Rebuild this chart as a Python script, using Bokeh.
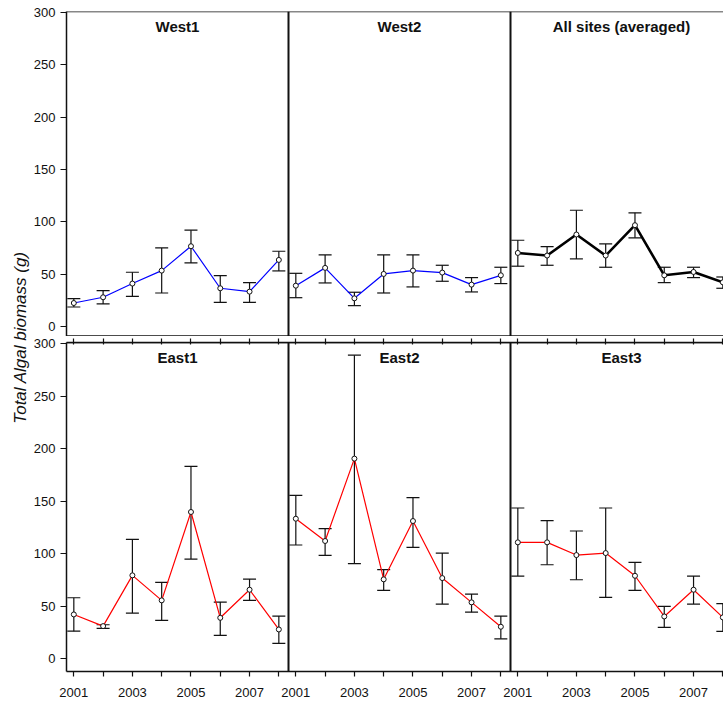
import math
from bokeh.plotting import figure
from bokeh.models import (ColumnDataSource, Whisker, TeeHead, Label, Span,
                          FixedTicker, Range1d, LinearAxis)
from bokeh.layouts import row, column
from bokeh.embed import file_html
from bokeh.resources import INLINE

# ---------------- data ----------------
years = [2001, 2002, 2003, 2004, 2005, 2006, 2007, 2008]
year_labels = ["2001", "", "2003", "", "2005", "", "2007", ""]
y_ticks = [0, 50, 100, 150, 200, 250, 300]

west1_mean = [22.3, 27.8, 40.9, 53.3, 76.6, 36.4, 33.2, 63.5]
west1_upper = [26.5, 34.2, 51.7, 75.0, 91.9, 48.5, 41.8, 71.8]
west1_lower = [18.5, 21.4, 28.7, 31.9, 60.6, 23.0, 23.0, 53.0]

west2_mean = [38.9, 55.9, 26.8, 50.1, 53.3, 51.4, 39.9, 48.8]
west2_upper = [50.7, 68.3, 32.6, 68.3, 68.3, 58.4, 46.6, 56.5]
west2_lower = [27.4, 41.5, 19.8, 31.9, 37.7, 43.1, 32.9, 40.9]

all_mean = [70.2, 67.7, 87.8, 67.7, 96.7, 48.8, 52.0, 42.1]
all_upper = [82.3, 76.3, 111.0, 78.8, 108.5, 56.5, 56.5, 47.2]
all_lower = [57.5, 58.4, 64.5, 56.5, 84.6, 41.8, 46.6, 36.4]

east1_mean = [42.2, 31.1, 79.4, 55.6, 139.7, 39.0, 65.7, 27.9]
east1_upper = [58.1, 32.4, 113.7, 72.7, 183.2, 54.0, 75.9, 40.6]
east1_lower = [26.3, 28.9, 43.5, 36.5, 94.9, 22.2, 55.6, 14.6]

east2_mean = [133.3, 112.1, 190.5, 75.6, 131.1, 76.8, 53.7, 30.5]
east2_upper = [155.6, 123.8, 288.9, 84.8, 153.3, 100.6, 61.6, 40.6]
east2_lower = [108.3, 98.4, 90.5, 65.1, 106.0, 52.1, 44.4, 19.0]

east3_mean = [110.8, 110.8, 98.7, 100.6, 79.0, 40.3, 65.7, 39.4]
east3_upper = [143.5, 131.4, 121.6, 143.5, 91.7, 49.8, 78.7, 52.4]
east3_lower = [78.7, 89.5, 75.2, 58.4, 65.1, 29.8, 52.1, 26.0]

top_titles = ["West1", "West2", "All sites (averaged)"]
bottom_titles = ["East1", "East2", "East3"]
y_title = "Total Algal biomass (g)"

# ---------------- layout constants ----------------
FONT = "Liberation Sans"
INK = "#111111"
PANEL_PX = 222
FRAME_W = 657
LEFT_W = 30
X_LO, X_HI = 2000.75, 2008.33
SPAN = X_HI - X_LO
X_START = X_LO
X_END = X_LO + FRAME_W / PANEL_PX * SPAN

tick_vals = []
overrides = {}
for k in range(3):
    for yr, lab in zip(years, year_labels):
        t = round(yr + k * SPAN, 6)
        tick_vals.append(t)
        overrides[t] = lab


def style_x(ax):
    ax.ticker = FixedTicker(ticks=tick_vals)
    ax.minor_tick_out = 0
    ax.minor_tick_in = 0
    ax.axis_line_width = 1.5
    ax.axis_line_color = INK
    ax.major_tick_line_color = INK
    ax.major_tick_line_width = 1.2


def make_row(series, titles, frame_h, y0, y1, is_bottom):
    p = figure(frame_width=FRAME_W, frame_height=frame_h,
               x_range=Range1d(X_START, X_END), y_range=Range1d(y0, y1),
               output_backend="svg", toolbar_location=None,
               x_axis_location="below" if is_bottom else None,
               min_border_left=36, min_border_right=0,
               min_border_top=6 if is_bottom else 11,
               min_border_bottom=0,
               outline_line_color=None, background_fill_color="white",
               border_fill_color="white")
    p.grid.visible = False

    ya = p.yaxis[0]
    ya.ticker = FixedTicker(ticks=y_ticks)
    ya.major_tick_out = 6
    ya.major_tick_in = 0
    ya.minor_tick_out = 0
    ya.minor_tick_in = 0
    ya.axis_line_width = 1.5
    ya.axis_line_color = INK
    ya.major_tick_line_color = INK
    ya.major_tick_line_width = 1.2
    ya.major_label_text_font = FONT
    ya.major_label_text_font_size = "13px"
    ya.major_label_text_color = INK
    ya.major_label_standoff = 5

    if is_bottom:
        xa = p.xaxis[0]
        style_x(xa)
        xa.major_label_overrides = overrides
        xa.major_tick_out = 5
        xa.major_tick_in = 0
        xa.major_label_text_font = FONT
        xa.major_label_text_font_size = "13px"
        xa.major_label_text_color = INK
        xa.major_label_standoff = 11
        # ticks of the upper row's base line, crossing the gap
        ta = LinearAxis()
        style_x(ta)
        ta.major_tick_out = 4
        ta.major_tick_in = 2
        ta.major_label_text_font_size = "0px"
        ta.major_label_text_color = None
        ta.major_label_standoff = 0
        p.add_layout(ta, "above")
    else:
        p.add_layout(Span(location=y0, dimension="width", line_color=INK, line_width=2.5))

    # frame: top edge and panel separators
    p.add_layout(Span(location=y1, dimension="width", line_color=INK, line_width=1.5))
    for k in range(2):
        p.add_layout(Span(location=X_HI + k * SPAN, dimension="height",
                          line_color=INK, line_width=2))

    for k, (mean, upper, lower, color, lw) in enumerate(series):
        xs = [yr + k * SPAN for yr in years]
        src = ColumnDataSource(dict(x=xs, mean=mean, upper=upper, lower=lower))
        p.add_layout(Whisker(source=src, base="x", upper="upper", lower="lower",
                             line_color=INK, line_width=1.2,
                             upper_head=TeeHead(size=13, line_color=INK, line_width=1.2),
                             lower_head=TeeHead(size=13, line_color=INK, line_width=1.2)))
        p.line("x", "mean", source=src, line_color=color, line_width=lw)
        p.scatter("x", "mean", source=src, marker="circle", size=5,
                  fill_color="white", line_color=INK, line_width=1)
        p.add_layout(Label(x=X_LO + k * SPAN + SPAN / 2, y=287, text=titles[k],
                           text_align="center", text_baseline="middle",
                           text_font=FONT, text_font_size="15px",
                           text_font_style="bold", text_color=INK))
    return p


top = make_row([
    (west1_mean, west1_upper, west1_lower, "#0000ff", 1.2),
    (west2_mean, west2_upper, west2_lower, "#0000ff", 1.2),
    (all_mean, all_upper, all_lower, "#000000", 2.6),
], top_titles, 325, -9.7, 301, False)

bottom = make_row([
    (east1_mean, east1_upper, east1_lower, "#ff0000", 1.2),
    (east2_mean, east2_upper, east2_lower, "#ff0000", 1.2),
    (east3_mean, east3_upper, east3_lower, "#ff0000", 1.2),
], bottom_titles, 329, -12.1, 301, True)

TOTAL_H = 702
lab = figure(width=LEFT_W, height=TOTAL_H, x_range=Range1d(0, LEFT_W), y_range=Range1d(0, TOTAL_H),
             output_backend="svg", toolbar_location=None, min_border=0,
             outline_line_color=None)
lab.axis.visible = False
lab.grid.visible = False
lab.add_layout(Label(x=19.5, y=TOTAL_H - 337, text=y_title, angle=math.pi / 2,
                     text_align="center", text_baseline="middle",
                     text_font=FONT, text_font_size="17px",
                     text_font_style="italic", text_color=INK))

layout = row(lab, column(top, bottom, spacing=0), spacing=0)

open("out.html", "w").write(file_html(layout, INLINE))
